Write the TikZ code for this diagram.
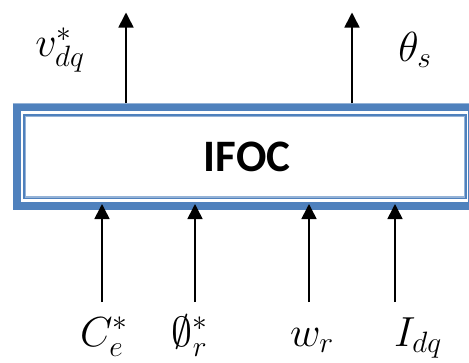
\RequirePackage{fix-cm}
\documentclass[tikz,border=0pt]{standalone}
\usepackage{fontspec}
\newfontfamily\carlito{Carlito}
\usetikzlibrary{arrows.meta}
\definecolor{ofblue}{HTML}{4F81BD}
\definecolor{oflight}{HTML}{95B3D7}
\begin{document}
\begin{tikzpicture}[x=1pt,y=-1pt,
  sig/.style={line width=1.6pt,-{Triangle[length=15pt,width=15pt]}},
  lab/.style={font=\fontsize{29}{34}\selectfont, inner sep=0pt, scale=1.45},
  title/.style={font=\carlito\bfseries\fontsize{45}{54}\selectfont, inner sep=0pt}]
\useasboundingbox (0,0) rectangle (469,362);
\clip (0,0) rectangle (469,362);
% frame
\fill[ofblue] (12.5,103.3) rectangle (480,210);
\draw[oflight, line width=0.8pt] (12.5,103.7) -- (480,103.7);
\fill[white] (20.7,110.7) rectangle (468,201.7);
\draw[ofblue, line width=1.4pt] (24,114.8) rectangle (466,198.4);
\draw[oflight, line width=1.1pt] (25.4,116.2) rectangle (464.6,197);
\node[title] (ifoc) at (247,157) {IFOC};
% coordinates on frame
\coordinate (o1) at (126,103.3);
\coordinate (o2) at (352,103.3);
\coordinate (o1t) at (126,12.5);
\coordinate (o2t) at (352,12.5);
\coordinate (i1) at (102,204);
\coordinate (i2) at (195,204);
\coordinate (i3) at (309,204);
\coordinate (i4) at (395,204);
\coordinate (i1b) at (102,302);
\coordinate (i2b) at (195,302);
\coordinate (i3b) at (309,302);
\coordinate (i4b) at (395,302);
% outputs
\draw[sig] (o1) -- (o1t);
\draw[sig] (o2) -- (o2t);
% inputs
\draw[sig] (i1b) -- (i1);
\draw[sig] (i2b) -- (i2);
\draw[sig] (i3b) -- (i3);
\draw[sig] (i4b) -- (i4);
% labels
\node[lab] (vdq) at (60,50) {$v^{*}_{dq}$};
\node[lab] (ths) at (415,50) {$\theta_{s}$};
\node[lab, anchor=base] (ce) at (104,346) {$C^{*}_{e}$};
\node[lab, anchor=base] (phr) at (190,346) {$\emptyset^{*}_{r}$};
\node[lab, anchor=base] (wr) at (312,346) {$w_{r}$};
\node[lab, anchor=base] (idq) at (418,346) {$I_{dq}$};
\end{tikzpicture}
\end{document}
